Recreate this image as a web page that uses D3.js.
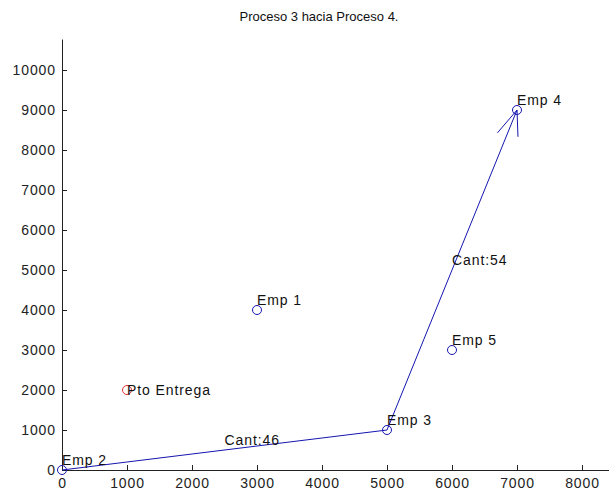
<!DOCTYPE html>
<html><head><meta charset="utf-8">
<script src="https://cdn.jsdelivr.net/npm/d3@7"></script>
<style>body{margin:0;background:#fff}svg{display:block}text{font-family:"Liberation Sans",Arial,sans-serif}</style>
</head><body>
<script>
const title = "Proceso 3 hacia Proceso 4.";
const xTicks = [0,1000,2000,3000,4000,5000,6000,7000,8000];
const yTicks = [0,1000,2000,3000,4000,5000,6000,7000,8000,9000,10000];
const empNames = ["Emp 1","Emp 2","Emp 3","Emp 4","Emp 5"];
const empX = [3000,0,5000,7000,6000];
const empY = [4000,0,1000,9000,3000];
const deliveryName = "Pto Entrega";
const deliveryX = [1000];
const deliveryY = [2000];
const routeX = [0,5000,7000];
const routeY = [0,1000,9000];
const qtyLabels = ["Cant:46","Cant:54"];
const arrowBarbX = [6700,7015];
const arrowBarbY = [8430,8330];

const W=609,H=497;
const svg=d3.select("body").append("svg").attr("width",W).attr("height",H);
const x=d3.scaleLinear().domain([0,8500]).range([62,614.5]);
const y=d3.scaleLinear().domain([0,10775]).range([470,39]);
const blue="#1515b0";
const FS=14, LS="0.9px";

svg.append("text").attr("x",319).attr("y",21).attr("text-anchor","middle").attr("font-size",13).attr("fill","#111").text(title);

const gx=svg.append("g").attr("transform","translate(0,470)")
  .call(d3.axisBottom(x).tickValues(xTicks).tickFormat(d3.format("d")).tickSizeInner(-5).tickSizeOuter(0).tickPadding(7));
const gy=svg.append("g").attr("transform","translate(62,0)")
  .call(d3.axisLeft(y).tickValues(yTicks).tickFormat(d3.format("d")).tickSizeInner(-5).tickSizeOuter(0).tickPadding(6));
[gx,gy].forEach(g=>{g.selectAll("path,line").attr("stroke","#222");g.selectAll("text").attr("font-size",FS).attr("letter-spacing",LS).attr("fill","#222").attr("font-family","Liberation Sans, Arial, sans-serif");});
gx.selectAll("text").attr("dy","0.8em");

const line=d3.line().x(d=>x(d[0])).y(d=>y(d[1]));
svg.append("path").attr("d",line(routeX.map((v,i)=>[v,routeY[i]]))).attr("fill","none").attr("stroke",blue).attr("stroke-width",1);
arrowBarbX.forEach((bx,i)=>{
  svg.append("line").attr("x1",x(routeX[2])).attr("y1",y(routeY[2])).attr("x2",x(bx)).attr("y2",y(arrowBarbY[i])).attr("stroke",blue);
});

empNames.forEach((n,i)=>{
  svg.append("circle").attr("cx",x(empX[i])).attr("cy",y(empY[i])).attr("r",4.5).attr("fill","none").attr("stroke",blue);
  svg.append("text").attr("x",x(empX[i])).attr("y",y(empY[i]+250)).attr("dy","0.35em").attr("font-size",FS).attr("letter-spacing",LS).attr("fill","#111").text(n);
});
deliveryX.forEach((dx,i)=>{
  svg.append("circle").attr("cx",x(dx)).attr("cy",y(deliveryY[i])).attr("r",4.5).attr("fill","none").attr("stroke","#e03030");
  svg.append("text").attr("x",x(dx)).attr("y",y(deliveryY[i])).attr("dy","0.35em").attr("font-size",FS).attr("letter-spacing",LS).attr("fill","#111").text(deliveryName);
});
qtyLabels.forEach((t,i)=>{
  const mx=(routeX[i]+routeX[i+1])/2, my=(routeY[i]+routeY[i+1])/2;
  svg.append("text").attr("x",x(mx)).attr("y",y(my+250)).attr("dy","0.35em").attr("font-size",FS).attr("letter-spacing",LS).attr("fill","#111").text(t);
});
</script>
</body></html>
